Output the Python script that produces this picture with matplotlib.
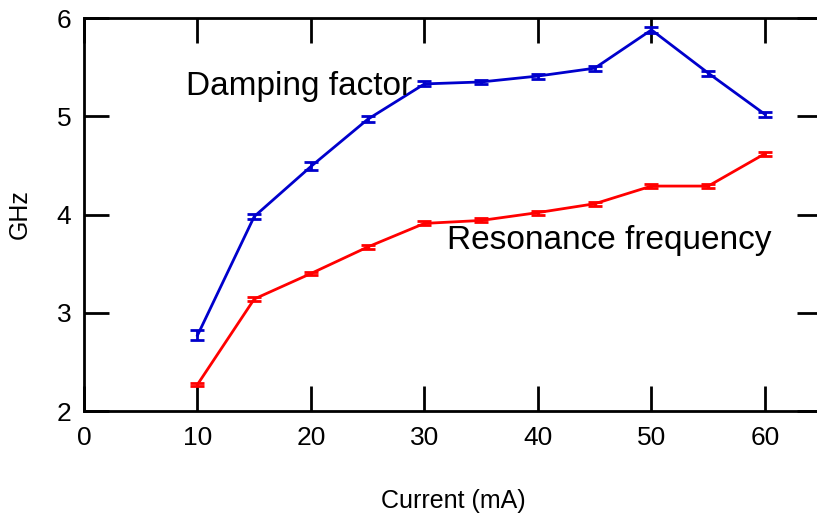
import matplotlib.pyplot as plt

plt.rcParams['font.family'] = ['Liberation Sans', 'DejaVu Sans']

current = [10, 15, 20, 25, 30, 35, 40, 45, 50, 55, 60]
damping = [2.77, 3.98, 4.49, 4.97, 5.33, 5.35, 5.41, 5.49, 5.88, 5.44, 5.02]
damping_err = [0.05, 0.03, 0.04, 0.03, 0.025, 0.02, 0.025, 0.025, 0.03, 0.025, 0.025]
resonance = [2.27, 3.14, 3.40, 3.67, 3.91, 3.94, 4.02, 4.11, 4.29, 4.29, 4.62]
resonance_err = [0.02, 0.02, 0.02, 0.02, 0.02, 0.02, 0.02, 0.02, 0.02, 0.02, 0.02]

fig = plt.figure(figsize=(8.17, 5.17), dpi=100)
ax = fig.add_axes([0.1028, 0.205, 0.903, 0.760])

ax.errorbar(current, damping, yerr=damping_err, color='#0000cc', lw=2,
            capsize=5, capthick=2, elinewidth=2)
ax.errorbar(current, resonance, yerr=resonance_err, color='#ff0000', lw=2,
            capsize=5, capthick=2, elinewidth=2)

ax.text(9.0, 5.30, 'Damping factor', fontsize=24, va='center', ha='left')
ax.text(32.0, 3.74, 'Resonance frequency', fontsize=24, va='center', ha='left')

ax.set_xlim(0, 65)
ax.set_ylim(2, 6)
ax.set_xticks([0, 10, 20, 30, 40, 50, 60])
ax.set_yticks([2, 3, 4, 5, 6])
ax.tick_params(direction='in', length=18, width=2, labelsize=19,
               top=True, right=True)
ax.tick_params(axis='x', pad=11)
ax.tick_params(axis='y', pad=9)
for s in ax.spines.values():
    s.set_linewidth(2)

ax.set_xlabel('Current (mA)', fontsize=18, labelpad=28)
ax.set_ylabel('GHz', fontsize=18, labelpad=18)

fig.savefig('out.png', dpi=100)
